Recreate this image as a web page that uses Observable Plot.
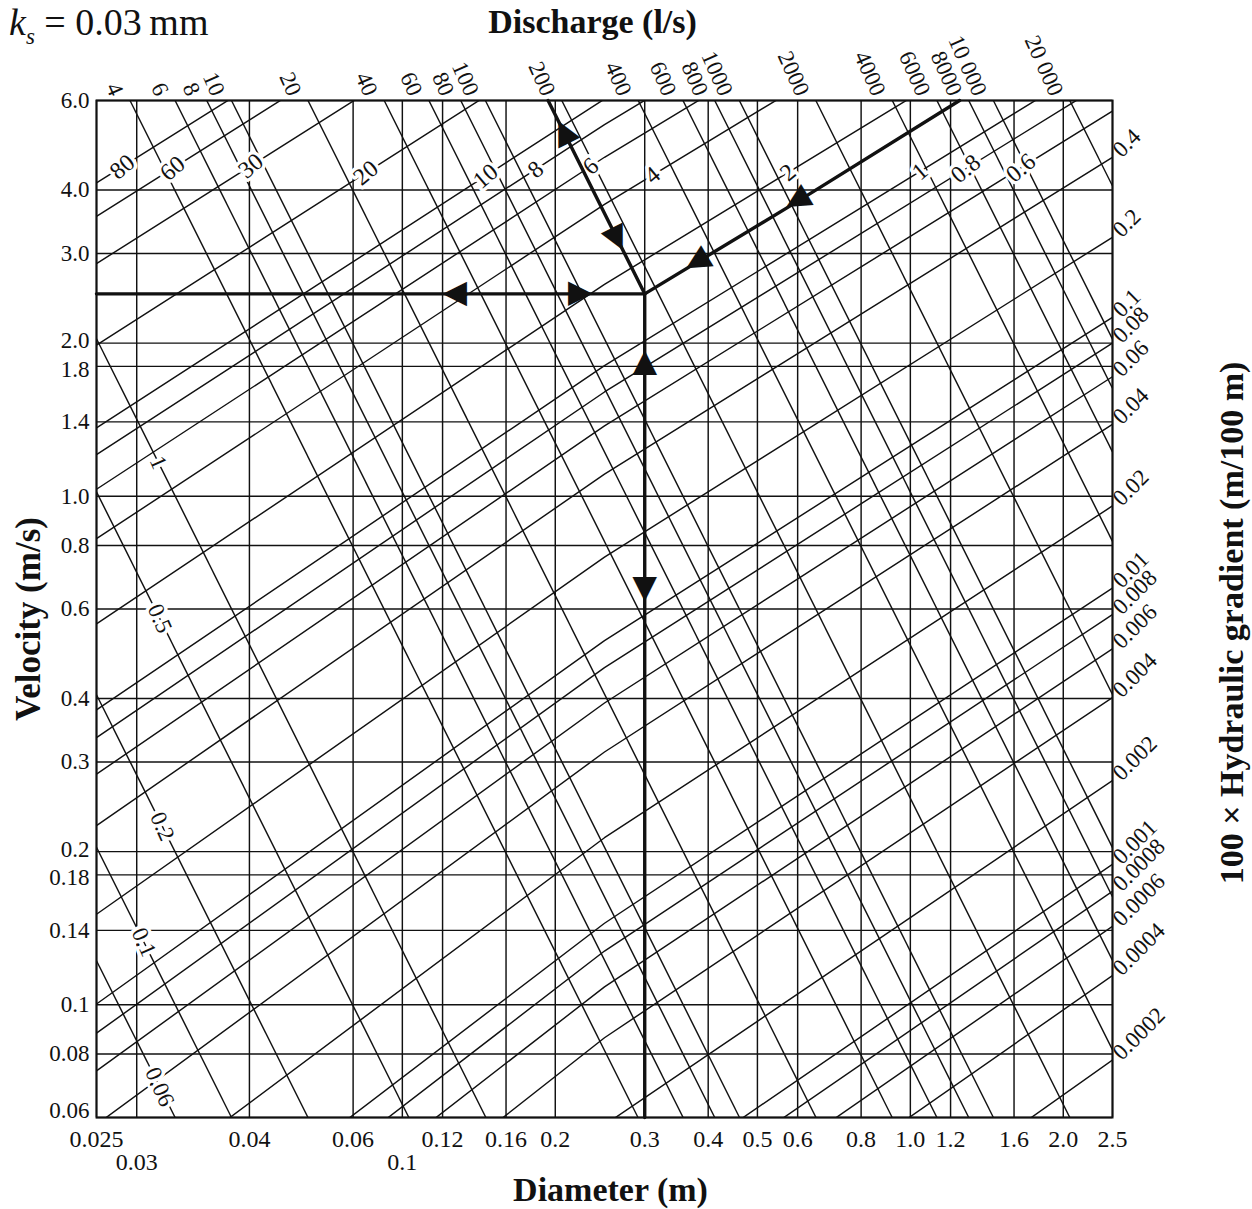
<!DOCTYPE html>
<html>
<head>
<meta charset="utf-8">
<script src="https://cdn.jsdelivr.net/npm/d3@7"></script>
<script src="https://cdn.jsdelivr.net/npm/@observablehq/plot@0.6"></script>
<style>
  body { margin: 0; background: #fff; }
  #wrap { position: relative; width: 1252px; height: 1209px; }
  #ks { position: absolute; left: 9px; top: 0px; font-family: "Liberation Serif", "Times New Roman", serif; font-size: 38px; color: #111; z-index: 2; }
  #ks sub { font-size: 23px; }
</style>
</head>
<body>
<div id="wrap"><div id="ks"><i>k</i><sub><i>s</i></sub> = 0.03&#8201;mm</div></div>
<script>
// ---------- axis ticks (as printed) ----------
const diameterTicks = [0.025, 0.03, 0.05, 0.08, 0.1, 0.12, 0.16, 0.2, 0.3, 0.4, 0.5, 0.6, 0.8, 1.0, 1.2, 1.6, 2.0, 2.5];
const diameterTickLabels = ["0.025", "0.03", "0.04", "0.06", "0.1", "0.12", "0.16", "0.2", "0.3", "0.4", "0.5", "0.6", "0.8", "1.0", "1.2", "1.6", "2.0", "2.5"];
const diameterTickRow = [0, 1, 0, 0, 1, 0, 0, 0, 0, 0, 0, 0, 0, 0, 0, 0, 0, 0];

const velocityTicks = [6, 4, 3, 2, 1.8, 1.4, 1, 0.8, 0.6, 0.4, 0.3, 0.2, 0.18, 0.14, 0.1, 0.08, 0.06];
const velocityTickLabels = ["6.0", "4.0", "3.0", "2.0", "1.8", "1.4", "1.0", "0.8", "0.6", "0.4", "0.3", "0.2", "0.18", "0.14", "0.1", "0.08", "0.06"];

// ---------- discharge lines (l/s): where each enters and leaves the frame ----------
const dischargeLabels = ["0.06", "0.1", "0.2", "0.5", "1", "4", "6", "8", "10", "20", "40", "60", "80", "100", "200", "400", "600", "800", "1000", "2000", "4000", "6000", "8000", "10 000", "20 000"];
const dischargeStartD = [0.025, 0.025, 0.025, 0.025, 0.025, 0.0291, 0.0357, 0.0412, 0.0461, 0.0652, 0.0921, 0.1128, 0.1303, 0.1457, 0.206, 0.2913, 0.3568, 0.412, 0.4607, 0.6515, 0.9213, 1.128, 1.303, 1.457, 2.06];
const dischargeStartV = [0.122, 0.204, 0.407, 1.02, 2.04, 6, 6, 6, 6, 6, 6, 6, 6, 6, 6, 6, 6, 6, 6, 6, 6, 6, 6, 6, 6];
const dischargeEndD = [0.0357, 0.0461, 0.0652, 0.103, 0.146, 0.291, 0.357, 0.412, 0.461, 0.652, 0.921, 1.128, 1.303, 1.457, 2.06, 2.5, 2.5, 2.5, 2.5, 2.5, 2.5, 2.5, 2.5, 2.5, 2.5];
const dischargeEndV = [0.06, 0.06, 0.06, 0.06, 0.06, 0.06, 0.06, 0.06, 0.06, 0.06, 0.06, 0.06, 0.06, 0.06, 0.06, 0.0815, 0.1222, 0.163, 0.2037, 0.4074, 0.8149, 1.222, 1.63, 2.037, 4.074];
// labels written on the lines near the left edge (index, diameter of label)
const dischargeInnerIndex = [0, 1, 2, 3, 4];
const dischargeInnerD = [0.0333, 0.031, 0.0337, 0.0333, 0.0331];

// ---------- hydraulic gradient lines (100 x gradient), velocity read at D = 0.025, 0.25, 2.5 m ----------
const gradientLabels = ["80", "60", "30", "20", "10", "8", "6", "4", "2", "1", "0.8", "0.6", "0.4", "0.2", "0.1", "0.08", "0.06", "0.04", "0.02", "0.01", "0.008", "0.006", "0.004", "0.002", "0.001", "0.0008", "0.0006", "0.0004", "0.0002"];
const gradientDiameters = [0.025, 0.25, 2.5];
const gradientVelAtD025 = [4.13, 3.551, 2.867, 1.982, 1.363, 1.207, 1.032, 0.825, 0.561, 0.38, 0.335, 0.284, 0.225, 0.1506, 0.1003, 0.0879, 0.0741, 0.0581, 0.0382, 0.025, 0.0217, 0.0182, 0.0141, 0.009, 0.0057, 0.0049, 0.004, 0.0031, 0.0019];
const gradientVelAtD25 = [17.5, 15.13, 12.3, 8.63, 6.04, 5.38, 4.64, 3.75, 2.61, 1.806, 1.603, 1.375, 1.105, 0.759, 0.52, 0.46, 0.392, 0.314, 0.213, 0.1446, 0.1275, 0.1084, 0.0861, 0.058, 0.039, 0.0343, 0.029, 0.0229, 0.0153];
const gradientVelAtD250 = [68.5, 59.3, 48.3, 34.1, 24.0, 21.5, 18.6, 15.1, 10.6, 7.44, 6.64, 5.72, 4.64, 3.23, 2.249, 2.0, 1.718, 1.385, 0.957, 0.66, 0.585, 0.501, 0.402, 0.276, 0.1889, 0.1671, 0.1427, 0.1141, 0.0778];
// labels inside the top of the chart (index, diameter of label)
const gradientTopIndex = [0, 1, 2, 3, 4, 5, 6, 7, 8, 9, 10, 11];
const gradientTopD = [0.0281, 0.0353, 0.0503, 0.0847, 0.1458, 0.1829, 0.2347, 0.3107, 0.574, 1.044, 1.285, 1.65];
// labels outside the right edge
const gradientRightIndex = [12, 13, 14, 15, 16, 17, 18, 19, 20, 21, 22, 23, 24, 25, 26, 27, 28];

// ---------- worked example (bold path) ----------
const pathVerticalD = [0.3, 0.3], pathVerticalV = [0.06, 2.5];
const pathHorizontalD = [0.025, 0.3], pathHorizontalV = [2.5, 2.5];
const pathDischargeD = [0.1936, 0.3], pathDischargeV = [6, 2.5];
const pathGradientD = [0.3, 0.6, 1.25], pathGradientV = [2.5, 3.8, 6];
const arrowD = [0.1255, 0.226, 0.3, 0.3, 0.207, 0.266, 0.377, 0.593];
const arrowV = [2.5, 2.5, 1.85, 0.65, 5.24, 3.18, 2.876, 3.795];
const arrowAngle = [-90, 90, 0, 180, -26.6, 153.4, -121, -121];

// ---------- build tables ----------
const xTicks = diameterTicks.map((d, i) => ({d, label: diameterTickLabels[i], row: diameterTickRow[i]}));
const yTicks = velocityTicks.map((v, i) => ({v, label: velocityTickLabels[i]}));
// crowded pairs of velocity labels are nudged apart slightly, the last one lifted off the diameter labels
const yUpper = new Set(["2.0", "0.2"]);
const yLower = new Set(["1.8", "0.18"]);
const yLast = new Set(["0.06"]);
const yPlain = yTicks.filter(t => !yUpper.has(t.label) && !yLower.has(t.label) && !yLast.has(t.label));

const dischargeLines = dischargeLabels.map((label, i) => ({
  label, d1: dischargeStartD[i], v1: dischargeStartV[i], d2: dischargeEndD[i], v2: dischargeEndV[i]
}));
function vOnDischarge(i, d) {
  const L = dischargeLines[i];
  const t = Math.log(d / L.d1) / Math.log(L.d2 / L.d1);
  return L.v1 * Math.pow(L.v2 / L.v1, t);
}
const dischargeTop = dischargeLines.filter(L => L.v1 === 6);
const dischargeInner = dischargeInnerIndex.map((i, k) => ({label: dischargeLabels[i], d: dischargeInnerD[k], v: vOnDischarge(i, dischargeInnerD[k])}));

const gradVel = [gradientVelAtD025, gradientVelAtD25, gradientVelAtD250];
const gradientPoints = gradientLabels.flatMap((label, i) =>
  gradientDiameters.map((d, j) => ({id: i, d, v: gradVel[j][i]})));
function vOnGradient(i, d) {
  const k = d <= gradientDiameters[1] ? 0 : 1;
  const d0 = gradientDiameters[k], d1 = gradientDiameters[k + 1];
  const v0 = gradVel[k][i], v1 = gradVel[k + 1][i];
  const t = Math.log(d / d0) / Math.log(d1 / d0);
  return v0 * Math.pow(v1 / v0, t);
}
const gradientTop = gradientTopIndex.map((i, k) => ({label: gradientLabels[i], d: gradientTopD[k], v: vOnGradient(i, gradientTopD[k])}));
const gradientRight = gradientRightIndex.map(i => ({label: gradientLabels[i], d: 2.5, v: gradientVelAtD250[i]}));

const toPts = (D, V) => D.map((d, i) => ({d, v: V[i]}));
const arrows = arrowD.map((d, i) => ({d, v: arrowV[i], a: arrowAngle[i]}));

const ink = "#111";
const lw = 1.45;
const yLab = {y: "v", frameAnchor: "left", dx: -7, text: "label", textAnchor: "end", lineAnchor: "middle", fontSize: 23};
const chart = Plot.plot({
  width: 1252,
  height: 1209,
  marginLeft: 96,
  marginRight: 140,
  marginTop: 100,
  marginBottom: 92,
  x: {type: "log", domain: [0.025, 2.5], axis: null},
  y: {type: "log", domain: [0.06, 6], axis: null},
  style: {fontFamily: "'Liberation Serif', 'Times New Roman', serif", fontSize: "22px", background: "white", color: ink},
  marks: [
    Plot.ruleX(xTicks, {x: "d", stroke: ink, strokeWidth: lw}),
    Plot.ruleY(yTicks, {y: "v", stroke: ink, strokeWidth: lw}),
    Plot.link(dischargeLines, {x1: "d1", y1: "v1", x2: "d2", y2: "v2", stroke: ink, strokeWidth: lw}),
    Plot.line(gradientPoints, {x: "d", y: "v", z: "id", stroke: ink, strokeWidth: lw, clip: true}),
    // labels written on lines (white halo breaks the line)
    Plot.text(gradientTop, {x: "d", y: "v", text: "label", rotate: -40, fontSize: 24, stroke: "white", strokeWidth: 7, paintOrder: "stroke", fill: ink, lineAnchor: "middle"}),
    Plot.text(dischargeInner, {x: "d", y: "v", text: "label", rotate: 66, fontSize: 23, stroke: "white", strokeWidth: 7, paintOrder: "stroke", fill: ink, lineAnchor: "middle"}),
    // worked example
    Plot.line(toPts(pathVerticalD, pathVerticalV), {x: "d", y: "v", stroke: ink, strokeWidth: 3.4}),
    Plot.line(toPts(pathHorizontalD, pathHorizontalV), {x: "d", y: "v", stroke: ink, strokeWidth: 3.4}),
    Plot.line(toPts(pathDischargeD, pathDischargeV), {x: "d", y: "v", stroke: ink, strokeWidth: 3.4}),
    Plot.line(toPts(pathGradientD, pathGradientV), {x: "d", y: "v", stroke: ink, strokeWidth: 3.4}),
    Plot.text(arrows, {x: "d", y: "v", text: () => "\u25B2", rotate: "a", fontSize: 32, fontFamily: "DejaVu Sans", fill: ink, lineAnchor: "middle"}),
    Plot.frame({stroke: ink, strokeWidth: 2}),
    // tick labels
    Plot.text(xTicks.filter(t => t.row === 0), {x: "d", frameAnchor: "bottom", dy: 22, text: "label", textAnchor: "middle", lineAnchor: "middle", fontSize: 24}),
    Plot.text(xTicks.filter(t => t.row === 1), {x: "d", frameAnchor: "bottom", dy: 45, text: "label", textAnchor: "middle", lineAnchor: "middle", fontSize: 24}),
    Plot.text(yPlain, yLab),
    Plot.text(yTicks.filter(t => yUpper.has(t.label)), {...yLab, dy: -2}),
    Plot.text(yTicks.filter(t => yLower.has(t.label)), {...yLab, dy: 3}),
    Plot.text(yTicks.filter(t => yLast.has(t.label)), {...yLab, dy: -7}),
    // discharge labels above the frame
    Plot.text(dischargeTop, {x: "d1", y: "v1", text: "label", rotate: 66, textAnchor: "end", lineAnchor: "middle", dx: -13, dy: -6, fontSize: 23}),
    // gradient labels right of the frame
    Plot.text(gradientRight, {x: "d", y: "v", text: "label", rotate: -45, textAnchor: "start", lineAnchor: "middle", dx: 4, dy: -4, fontSize: 23}),
    // axis titles
    Plot.text(["Discharge (l/s)"], {text: d => d, frameAnchor: "top", textAnchor: "middle", dx: -12, dy: -78, fontSize: 34, fontWeight: "bold", lineAnchor: "middle"}),
    Plot.text(["Velocity (m/s)"], {text: d => d, frameAnchor: "left", textAnchor: "middle", dx: -68, dy: 10, rotate: -90, fontSize: 35, fontWeight: "bold", lineAnchor: "middle"}),
    Plot.text(["100 \u00D7 Hydraulic gradient (m/100 m)"], {text: d => d, frameAnchor: "right", textAnchor: "middle", dx: 120, dy: 14, rotate: -90, fontSize: 34, fontWeight: "bold", lineAnchor: "middle"}),
    Plot.text(["Diameter (m)"], {text: d => d, frameAnchor: "bottom", textAnchor: "middle", dx: 6, dy: 73, fontSize: 34, fontWeight: "bold", lineAnchor: "middle"})
  ]
});
document.getElementById("wrap").prepend(chart);
</script>
</body>
</html>
